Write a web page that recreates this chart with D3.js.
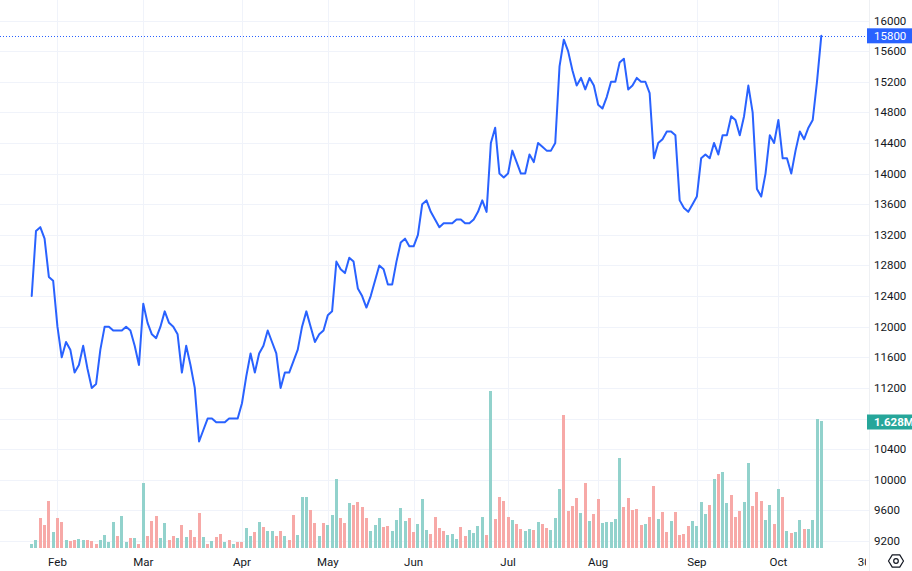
<!DOCTYPE html>
<html><head><meta charset="utf-8">
<script src="https://cdn.jsdelivr.net/npm/d3@7"></script>
<style>
body{margin:0;background:#fff;overflow:hidden;}
svg{display:block;}
text{font-family:Roboto,"Liberation Sans",Arial,sans-serif;}
</style>
</head><body>
<svg id="chart" width="912" height="571"></svg>
<script>
// ---- data ----
const closes = [
12400,13250,13300,13150,12650,12600,12000,11600,11800,11700,
11400,11500,11750,11450,11200,11250,11700,12000,12000,11950,
11950,11950,12000,11950,11750,11500,12300,12050,11900,11850,
12000,12200,12050,12000,11900,11400,11750,11500,11200,10500,
10650,10800,10800,10750,10750,10750,10800,10800,10800,11000,
11350,11650,11400,11650,11750,11950,11800,11650,11200,11400,
11400,11550,11700,12000,12200,12000,11800,11900,11950,12150,
12200,12850,12750,12700,12900,12850,12500,12400,12250,12400,
12600,12800,12750,12550,12550,12850,13100,13150,13050,13050,
13200,13600,13650,13500,13400,13300,13350,13350,13350,13400,
13400,13350,13350,13400,13500,13650,13500,14400,14600,14000,
13950,14000,14300,14150,14000,14000,14250,14150,14400,14350,
14300,14300,14400,15400,15750,15600,15350,15150,15250,15100,
15250,15150,14900,14850,15000,15200,15200,15450,15500,15100,
15150,15250,15200,15200,15050,14200,14400,14450,14550,14550,
14500,13650,13550,13500,13600,13700,14200,14250,14200,14400,
14250,14500,14500,14750,14700,14500,14750,15150,14800,13800,
13700,14000,14500,14400,14700,14200,14200,14000,14300,14550,
14450,14600,14700,15200,15800];

// volume in thousands
const volumes = [
47,98,382,293,598,204,382,327,98,89,
98,111,98,98,89,51,98,162,76,327,
149,408,76,127,127,51,830,149,343,408,
127,318,98,149,127,293,140,229,140,445,
140,56,89,140,178,76,98,56,76,76,
254,149,204,327,267,216,216,149,216,149,
98,420,162,649,649,483,318,149,318,293,
420,890,382,318,572,547,585,521,382,216,
293,382,267,280,216,356,509,343,382,204,
305,623,229,178,394,254,216,165,178,115,
267,149,225,191,276,394,162,2010,378,649,
598,394,365,305,242,212,238,225,327,305,
254,225,382,750,1700,471,534,636,454,827,
352,432,623,318,331,331,369,1150,521,636,
483,496,293,305,394,801,369,458,204,343,
458,165,178,280,343,280,585,432,547,890,
954,980,572,683,394,471,585,1090,534,712,
598,356,547,305,750,649,216,191,204,356,
242,242,356,1650,1628];

// bar direction: u = up (teal), d = down (red)
const barDirections = [
"u","u","d","d","d","u","d","d","u","d",
"d","u","u","d","d","d","u","u","u","u",
"d","u","u","d","u","d","u","d","d","d",
"u","u","d","d","u","d","u","d","d","d",
"u","d","u","d","d","u","d","u","d","d",
"u","u","d","u","d","u","u","d","d","u",
"d","d","u","u","u","d","d","u","d","u",
"u","u","d","d","u","d","d","d","d","u",
"u","u","d","d","u","u","u","u","d","d",
"u","u","u","d","d","d","d","u","u","u",
"d","d","u","u","u","u","d","u","d","d",
"d","d","u","d","d","u","u","d","u","d",
"d","u","u","u","d","d","d","d","u","d",
"u","d","d","u","u","u","u","u","d","d",
"d","d","d","u","d","d","u","d","d","u",
"d","d","d","d","u","u","u","u","d","u",
"d","u","u","d","d","d","u","u","d","d",
"d","u","u","d","u","d","u","d","u","u",
"d","u","u","u","u"];

const timeLabels = ["Feb","Mar","Apr","May","Jun","Jul","Aug","Sep","Oct","30"];
const timeLabelIndex = [6,26,49,69,89,111,132,155,174,194];
const priceTicks = d3.range(9200, 16001, 400);

// ---- layout ----
const W = 912, H = 571;
const paneRight = 869, paneBottom = 548;
const svg = d3.select("#chart");

const x = d3.scaleLinear().domain([0, closes.length - 1]).range([31.7, 821.3]);
const y = d3.scaleLinear().domain([9200, 16000]).range([541, 20.5]);
const yVol = d3.scaleLinear().domain([0, 1628]).range([paneBottom, 421]);

svg.append("rect").attr("width", W).attr("height", H).attr("fill", "#ffffff");

const defs = svg.append("defs");
defs.append("clipPath").attr("id","pane").append("rect")
  .attr("x",0).attr("y",0).attr("width",paneRight).attr("height",paneBottom);
defs.append("clipPath").attr("id","timeclip").append("rect")
  .attr("x",0).attr("y",paneBottom).attr("width",866).attr("height",H-paneBottom);

// grid
const grid = svg.append("g").attr("clip-path","url(#pane)");
grid.selectAll("line.h").data(priceTicks).join("line")
  .attr("x1",0).attr("x2",paneRight)
  .attr("y1",d=>Math.round(y(d))+0.5).attr("y2",d=>Math.round(y(d))+0.5)
  .attr("stroke","#f0f3fa").attr("stroke-width",1);
grid.selectAll("line.v").data(timeLabelIndex.slice(0,9)).join("line")
  .attr("x1",d=>Math.round(x(d))+0.5).attr("x2",d=>Math.round(x(d))+0.5)
  .attr("y1",0).attr("y2",paneBottom)
  .attr("stroke","#f0f3fa").attr("stroke-width",1);

// volume bars
const upCol = "#92d2cc", downCol = "#f7a9a7";
svg.append("g").attr("clip-path","url(#pane)")
  .selectAll("rect").data(volumes).join("rect")
  .attr("x",(d,i)=>x(i)-1.5)
  .attr("width",3)
  .attr("y",d=>yVol(d))
  .attr("height",d=>paneBottom - yVol(d))
  .attr("fill",(d,i)=>barDirections[i]==="u"?upCol:downCol)
  .attr("shape-rendering","crispEdges");

// price line
const line = d3.line().x((d,i)=>x(i)).y(d=>y(d));
svg.append("path").datum(closes)
  .attr("clip-path","url(#pane)")
  .attr("d",line).attr("fill","none")
  .attr("stroke","#2962ff").attr("stroke-width",2)
  .attr("stroke-linejoin","round").attr("stroke-linecap","round");

// last price dotted line
const last = closes[closes.length-1];
svg.append("line")
  .attr("x1",0).attr("x2",paneRight)
  .attr("y1",Math.round(y(last))+0.5).attr("y2",Math.round(y(last))+0.5)
  .attr("stroke","#2962ff").attr("stroke-width",1)
  .attr("stroke-dasharray","1,2");

// price axis border
svg.append("line").attr("x1",paneRight+0.5).attr("x2",paneRight+0.5)
  .attr("y1",0).attr("y2",H).attr("stroke","#eef0f3");

// label positions
const lastVol = volumes[volumes.length-1];
const lvY = yVol(lastVol)+1;
const lpY = y(last);

// price axis labels (hidden where a value label covers them, as in the reference)
svg.append("g").selectAll("text")
  .data(priceTicks.filter(d=>Math.abs(y(d)-lvY) > 10 && Math.abs(y(d)-lpY) > 10))
  .join("text")
  .attr("x",874).attr("y",d=>y(d))
  .attr("dy","0.35em")
  .attr("font-size","11.5px").attr("fill","#131722")
  .text(d=>d);

// last price label
svg.append("rect").attr("x",867).attr("y",lpY-7.5).attr("width",45).attr("height",15)
  .attr("fill","#2962ff");
svg.append("text").attr("x",874).attr("y",lpY).attr("dy","0.35em")
  .attr("font-size","11.5px").attr("fill","#ffffff").text(last);

// last volume label
svg.append("rect").attr("x",867).attr("y",lvY-7.5).attr("width",45).attr("height",15)
  .attr("fill","#26a69a");
svg.append("text").attr("x",874).attr("y",lvY).attr("dy","0.35em")
  .attr("font-size","11.5px").attr("font-weight","bold").attr("fill","#ffffff")
  .text((lastVol/1000).toFixed(3)+"M");

// time axis labels
svg.append("g").attr("clip-path","url(#timeclip)")
  .selectAll("text").data(timeLabels).join("text")
  .attr("x",(d,i)=>x(timeLabelIndex[i]))
  .attr("y",562).attr("dy","0.35em")
  .attr("text-anchor","middle")
  .attr("font-size","11.5px").attr("fill","#131722")
  .text(d=>d);

// settings icon
const cx = 896, cy = 561, r = 7.5;
const hex = d3.range(6).map(k=>{
  const a = Math.PI/3*k;
  return [cx + r*Math.cos(a), cy + r*Math.sin(a)*0.95];
});
svg.append("path").attr("d","M"+hex.map(p=>p.join(",")).join("L")+"Z")
  .attr("fill","none").attr("stroke","#131722").attr("stroke-width",1.2)
  .attr("stroke-linejoin","round");
svg.append("circle").attr("cx",cx).attr("cy",cy).attr("r",2.3)
  .attr("fill","none").attr("stroke","#131722").attr("stroke-width",1.2);
</script>
</body></html>
